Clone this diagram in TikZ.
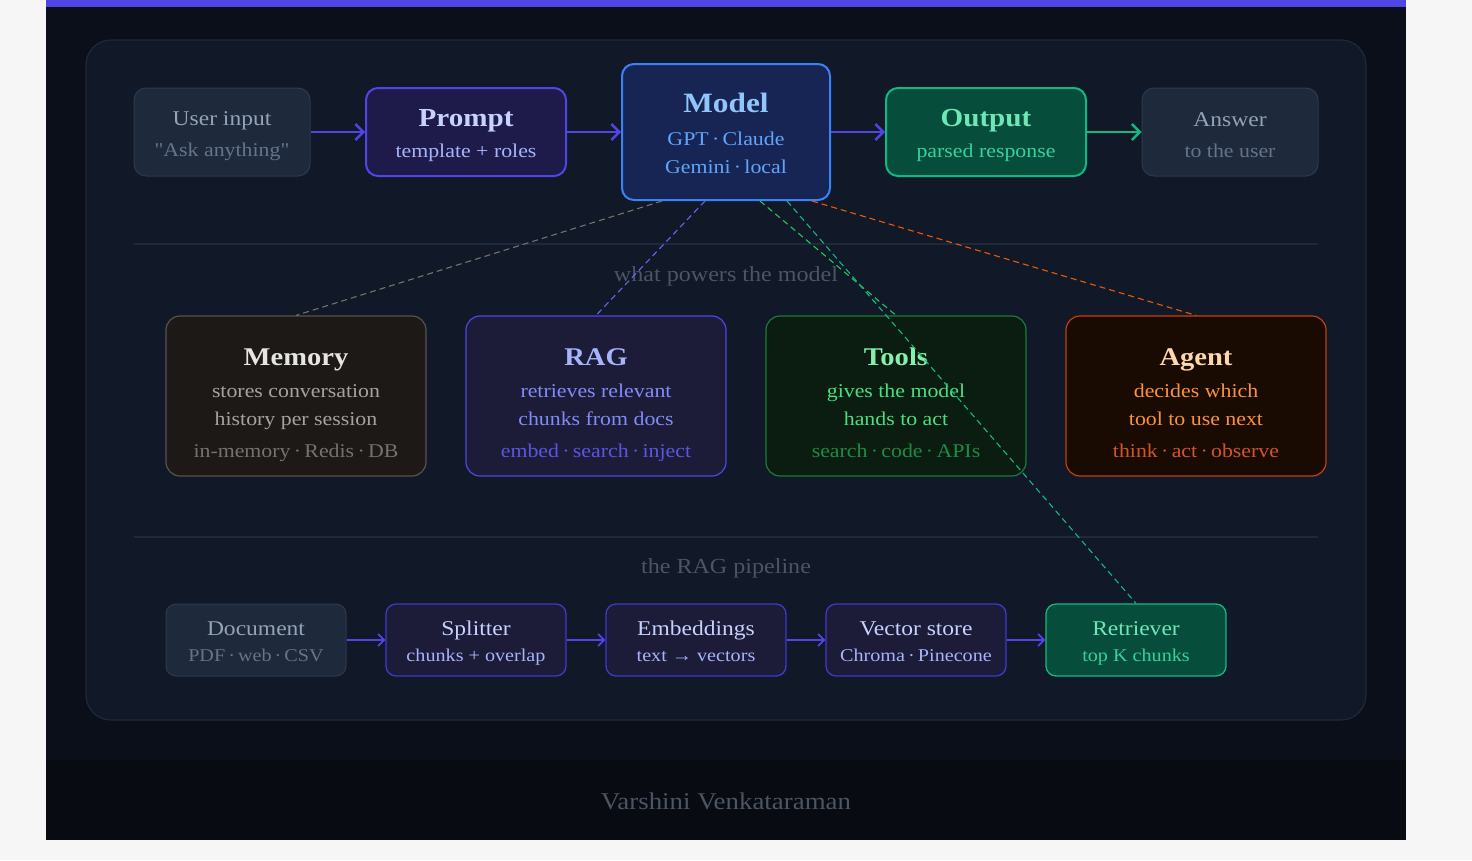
\documentclass[tikz,border=0pt]{standalone}
\usepackage{fontspec}
\setmainfont{Liberation Serif}[FakeStretch=1.12]
\usetikzlibrary{positioning,arrows.meta}

\definecolor{pagebg}{HTML}{F6F6F6}
\definecolor{darkbg}{HTML}{0B0F19}
\definecolor{footbg}{HTML}{080B12}
\definecolor{topbar}{HTML}{5046E5}
\definecolor{panel}{HTML}{111827}
\definecolor{panelline}{HTML}{1E293B}
\definecolor{labelgray}{HTML}{4B5563}
\definecolor{slfill}{HTML}{1E293B}
\definecolor{slline}{HTML}{2A3A50}
\definecolor{sltext}{HTML}{94A3B8}
\definecolor{slsub}{HTML}{64748B}
\definecolor{indfill}{HTML}{1E1B4B}
\definecolor{indline}{HTML}{4F46E5}
\definecolor{indtitle}{HTML}{C7D2FE}
\definecolor{indsub}{HTML}{A5B4FC}
\definecolor{modfill}{HTML}{172554}
\definecolor{modline}{HTML}{3B82F6}
\definecolor{modtitle}{HTML}{93C5FD}
\definecolor{modsub}{HTML}{60A5FA}
\definecolor{grnfill}{HTML}{064E3B}
\definecolor{grnline}{HTML}{10B981}
\definecolor{grntitle}{HTML}{6EE7B7}
\definecolor{grnsub}{HTML}{34D399}
\definecolor{memfill}{HTML}{1C1917}
\definecolor{memline}{HTML}{57534E}
\definecolor{memtitle}{HTML}{E7E5E4}
\definecolor{memdesc}{HTML}{A8A29E}
\definecolor{memtag}{HTML}{78716C}
\definecolor{ragfill}{HTML}{1C1B38}
\definecolor{ragdesc}{HTML}{818CF8}
\definecolor{ragtag}{HTML}{5B56E0}
\definecolor{toolfill}{HTML}{0B1D10}
\definecolor{toolline}{HTML}{1D7A3E}
\definecolor{tooltitle}{HTML}{86EFAC}
\definecolor{tooldesc}{HTML}{4ADE80}
\definecolor{tooltag}{HTML}{1F8A44}
\definecolor{agfill}{HTML}{1A0B02}
\definecolor{agline}{HTML}{C2410C}
\definecolor{agtitle}{HTML}{FED7AA}
\definecolor{agdesc}{HTML}{FB923C}
\definecolor{agtag}{HTML}{D0562A}
\definecolor{pipeline}{HTML}{4338CA}
\definecolor{toolsdash}{HTML}{22C55E}
\definecolor{agdash}{HTML}{EA580C}
\definecolor{ragdash}{HTML}{6366F1}

\newcommand\fsz[2]{\fontsize{#1}{#2}\selectfont}
\newcommand\sep{\hspace{0.17em}·\hspace{0.17em}}
% struts: top of first line, bottom of last line
\newcommand\tsp[1]{\rule{0pt}{#1}}
\newcommand\bsp[1]{\rule[-#1]{0pt}{#1}}

\begin{document}
\begin{tikzpicture}[x=1pt,y=-1pt,
  box/.style={rounded corners=12pt,align=center,inner sep=0pt},
  topbox/.style={box,minimum width=200pt,minimum height=88pt,line width=2pt,font=\fsz{19.5}{31}},
  card/.style={box,rounded corners=14pt,minimum width=260pt,minimum height=160pt,line width=1.2pt,font=\fsz{19.5}{28}},
  stage/.style={box,rounded corners=10pt,minimum width=180pt,minimum height=72pt,line width=1.3pt,font=\fsz{18}{26}},
  flow/.style={indline,line width=2.4pt,-{Straight Barb[length=8pt,width=16pt,line width=2.4pt]}},
  pipe/.style={indline,line width=1.8pt,-{Straight Barb[length=6pt,width=12pt,line width=1.8pt]}},
  link/.style={line width=1.1pt,dash pattern=on 6pt off 4pt},
  divider/.style={panelline,line width=1.2pt}]

\useasboundingbox (0,0) rectangle (1472,860);
\fill[pagebg] (0,0) rectangle (1472,860);
\fill[darkbg] (46,0) rectangle (1406,840);
\fill[footbg] (46,760) rectangle (1406,840);
\fill[topbar] (46,0) rectangle (1406,7);
\draw[fill=panel,draw=panelline,line width=1.2pt,rounded corners=25pt] (86,40) rectangle (1366,720);
\draw[divider] (134,244) -- (1318,244);
\draw[divider] (134,537) -- (1318,537);

% top row
\node[topbox,minimum width=176pt,fill=slfill,draw=slline,line width=1pt] (input) at (222,132)
  {{\tsp{23pt}\fsz{21}{31}\color{sltext}User input}\\{\addfontfeatures{Ligatures=TeXOff}\color{slsub}"Ask anything"\bsp{6pt}}};
\node[topbox,fill=indfill,draw=indline] (prompt) at (466,132)
  {{\tsp{25pt}\fsz{26}{31}\bfseries\color{indtitle}Prompt}\\{\color{indsub}template + roles\bsp{6pt}}};
\node[topbox,minimum width=208pt,minimum height=136pt,fill=modfill,draw=modline,font=\fsz{19.5}{28}] (model) at (726,132)
  {{\tsp{27pt}\fsz{28}{28}\bfseries\color{modtitle}Model}\\[5pt]{\color{modsub}GPT\sep Claude}\\{\color{modsub}Gemini\sep local\bsp{6pt}}};
\node[topbox,fill=grnfill,draw=grnline] (output) at (986,132)
  {{\tsp{25pt}\fsz{26}{31}\bfseries\color{grntitle}Output}\\{\color{grnsub}parsed response\bsp{6pt}}};
\node[topbox,minimum width=176pt,fill=slfill,draw=slline,line width=1pt] (answer) at (1230,132)
  {{\tsp{25pt}\fsz{21}{31}\color{sltext}Answer}\\{\color{slsub}to the user\bsp{6pt}}};

\draw[flow] (input) -- (prompt);
\draw[flow] (prompt) -- (model);
\draw[flow] (model) -- (output);
\draw[flow,grnline] (output) -- (answer);

\node[text=labelgray,font=\fsz{21.5}{24}] (powers) at (726,276) {what powers the model};

% what powers the model
\node[card,fill=memfill,draw=memline] (memory) at (296,396)
  {{\tsp{36pt}\fsz{25.5}{28}\bfseries\color{memtitle}Memory}\\[4pt]{\color{memdesc}stores conversation}\\{\color{memdesc}history per session}\\[4pt]{\color{memtag}in-memory\sep Redis\sep DB\bsp{6pt}}};
\node[card,fill=ragfill,draw=indline] (rag) at (596,396)
  {{\tsp{36pt}\fsz{25.5}{28}\bfseries\color{indsub}RAG}\\[4pt]{\color{ragdesc}retrieves relevant}\\{\color{ragdesc}chunks from docs}\\[4pt]{\color{ragtag}embed\sep search\sep inject\bsp{6pt}}};
\node[card,fill=toolfill,draw=toolline] (tools) at (896,396)
  {{\tsp{36pt}\fsz{25.5}{28}\bfseries\color{tooltitle}Tools}\\[4pt]{\color{tooldesc}gives the model}\\{\color{tooldesc}hands to act}\\[4pt]{\color{tooltag}search\sep code\sep APIs\bsp{6pt}}};
\node[card,fill=agfill,draw=agline] (agent) at (1196,396)
  {{\tsp{36pt}\fsz{25.5}{28}\bfseries\color{agtitle}Agent}\\[4pt]{\color{agdesc}decides which}\\{\color{agdesc}tool to use next}\\[4pt]{\color{agtag}think\sep act\sep observe\bsp{6pt}}};

\node[text=labelgray,font=\fsz{21.5}{24}] (ragline) at (726,568) {the RAG pipeline};

% the RAG pipeline
\node[stage,fill=slfill,draw=slline,line width=1pt] (document) at (256,640)
  {{\tsp{22pt}\fsz{21}{26}\color{sltext}Document}\\{\color{slsub}PDF\sep web\sep CSV\bsp{5pt}}};
\node[stage,fill=ragfill,draw=pipeline] (splitter) at (476,640)
  {{\tsp{22pt}\fsz{21}{26}\color{indtitle}Splitter}\\{\color{indsub}chunks + overlap\bsp{5pt}}};
\node[stage,fill=ragfill,draw=pipeline] (embed) at (696,640)
  {{\tsp{22pt}\fsz{21}{26}\color{indtitle}Embeddings}\\{\color{indsub}text → vectors\bsp{5pt}}};
\node[stage,fill=ragfill,draw=pipeline] (vstore) at (916,640)
  {{\tsp{22pt}\fsz{21}{26}\color{indtitle}Vector store}\\{\color{indsub}Chroma\sep Pinecone\bsp{5pt}}};
\node[stage,fill=grnfill,draw=grnline] (retriever) at (1136,640)
  {{\tsp{22pt}\fsz{21}{26}\color{grntitle}Retriever}\\{\color{grnsub}top K chunks\bsp{5pt}}};

\draw[pipe] (document) -- (splitter);
\draw[pipe] (splitter) -- (embed);
\draw[pipe] (embed) -- (vstore);
\draw[pipe] (vstore) -- (retriever);

% dashed links out of the model
\draw[link,memtag] ([xshift=-64pt]model.south) -- (memory.north);
\draw[link,ragdash] ([xshift=-21pt]model.south) -- (rag.north);
\draw[link,toolsdash] ([xshift=34pt]model.south) -- (tools.north);
\draw[link,grnline] ([xshift=61pt]model.south) -- (retriever.north);
\draw[link,agdash] ([xshift=86pt]model.south) -- (agent.north);

\node[text=labelgray,font=\fsz{24}{26}] (sig) at (726,801) {Varshini Venkataraman};
\end{tikzpicture}
\end{document}
